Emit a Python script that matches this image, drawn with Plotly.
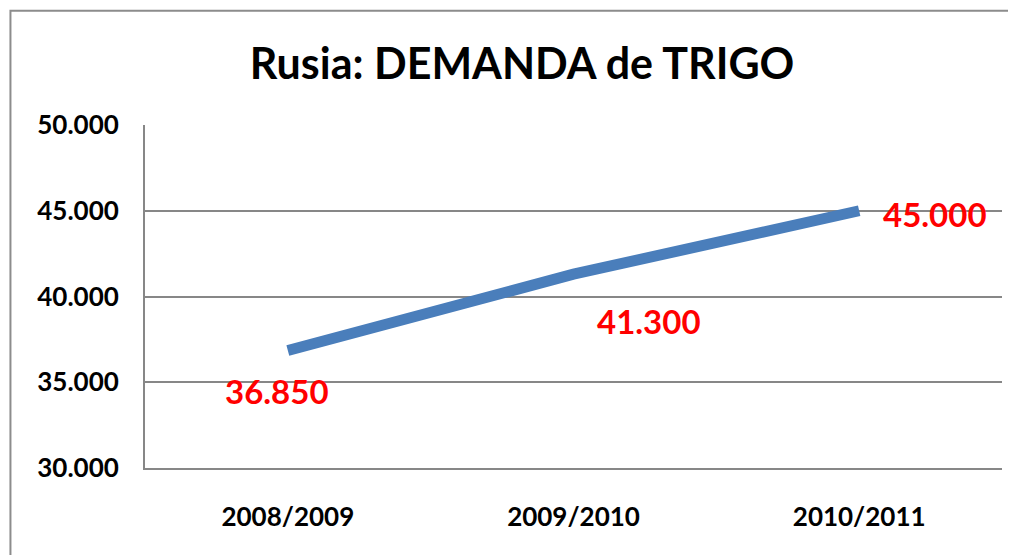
import plotly.graph_objects as go

categories = ["2008/2009", "2009/2010", "2010/2011"]
demanda = [36850, 41300, 45000]
label_text = ["36.850", "41.300", "45.000"]
y_ticks = [30000, 35000, 40000, 45000, 50000]
y_tick_labels = ["30.000", "35.000", "40.000", "45.000", "50.000"]

FONT = "Lato, 'Open Sans', sans-serif"
GRID = "#878787"

fig = go.Figure()
fig.add_trace(go.Scatter(
    x=categories, y=demanda, mode="lines",
    line=dict(color="#4A7EBB", width=11),
    hoverinfo="skip", showlegend=False,
))

# data labels positioned relative to the points
label_cfg = [
    dict(xanchor="center", yanchor="top", xshift=-11, yshift=-18),
    dict(xanchor="center", yanchor="top", xshift=75, yshift=-25),
    dict(xanchor="left", yanchor="middle", xshift=22, yshift=-3),
]
for c, v, t, cfg in zip(categories, demanda, label_text, label_cfg):
    fig.add_annotation(x=c, y=v, xref="x", yref="y", text=t, showarrow=False,
                       font=dict(family=FONT, size=33, color="#FF0000", weight="bold"),
                       **cfg)

# outer chart border (only top-left visible in the viewport)
fig.add_shape(type="rect", xref="paper", yref="paper",
              x0=-0.157, y0=-0.6, x1=1.2, y1=1.333,
              line=dict(color="#8C8C8C", width=2), fillcolor="rgba(0,0,0,0)",
              layer="below")

fig.update_layout(
    width=1016, height=555,
    margin=dict(l=137, r=22, t=117, b=95),
    paper_bgcolor="white", plot_bgcolor="white",
    title=dict(text="<b>Rusia: DEMANDA de TRIGO</b>", x=0.506, xanchor="center",
               y=0.9, yanchor="middle",
               font=dict(family=FONT, size=43, color="black")),
    xaxis=dict(range=[-0.5, 2.5], showgrid=False, zeroline=False,
               showline=True, linecolor=GRID, linewidth=2, ticks="",
               tickfont=dict(family=FONT, size=26, color="black", weight="bold"),
               ticklabelstandoff=25),
    yaxis=dict(range=[30000, 50000], tickvals=y_ticks, ticktext=y_tick_labels,
               showgrid=True, gridcolor=GRID, gridwidth=1.5, zeroline=False,
               showline=True, linecolor=GRID, linewidth=2, ticks="",
               tickfont=dict(family=FONT, size=26, color="black", weight="bold"),
               ticklabelstandoff=19),
)

fig.write_html("out.html")
